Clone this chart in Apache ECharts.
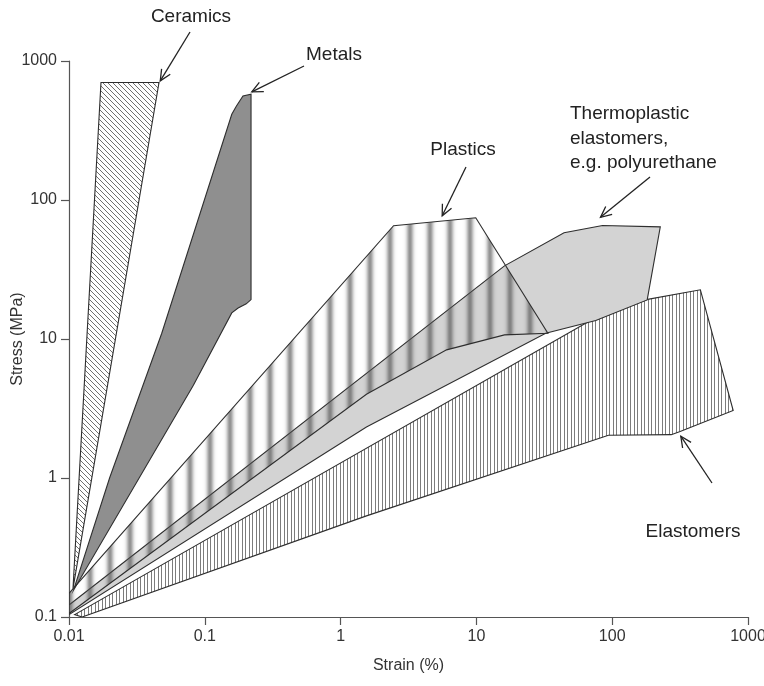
<!DOCTYPE html>
<html>
<head>
<meta charset="utf-8">
<script src="https://cdn.jsdelivr.net/npm/echarts@6/dist/echarts.min.js"></script>
<style>
  html, body { margin: 0; padding: 0; background: #ffffff; }
  #chart { width: 764px; height: 686px; }
</style>
</head>
<body>
<div id="chart"></div>
<script>
// Stress–strain envelopes of material classes on log–log axes.
// Each envelope is a closed polygon of [strain %, stress MPa] vertices.

const xTickLabels = ['0.01', '0.1', '1', '10', '100', '1000'];
const yTickLabels = ['0.1', '1', '10', '100', '1000'];

const ceramics = [[0.0107, 0.16], [0.0172, 700], [0.046, 700]];

const metals = [
  [0.0108, 0.156], [0.0199, 1.0], [0.0482, 11.0], [0.158, 414], [0.171, 474],
  [0.191, 561], [0.219, 577], [0.219, 19.2], [0.202, 17.9], [0.176, 16.7],
  [0.158, 15.4], [0.0824, 4.64]
];

const plastics = [
  [0.01, 0.148], [2.455, 65.3], [9.89, 74.5], [33.6, 11.0], [16.1, 10.7],
  [6.03, 8.35], [1.55, 4.0], [0.01, 0.106]
];

const thermoplastics = [
  [0.01, 0.122], [16.1, 33.6], [44.2, 58.1], [84.9, 65.6], [226, 64.1],
  [181, 19.1], [75.7, 13.6], [32.4, 11.0], [1.55, 2.33], [0.01, 0.104]
];

const elastomers = [
  [0.011, 0.104], [70.2, 13.7], [178, 19.2], [446, 22.6], [778, 3.06],
  [313, 2.15], [272, 2.05], [93.8, 2.03], [1.55, 0.534], [0.0125, 0.1]
];

// Annotation texts and the data point each arrow points at
const labelTexts = ['Ceramics', 'Metals', 'Plastics', 'Thermoplastic\nelastomers,\ne.g. polyurethane', 'Elastomers'];
const arrowTips = [[0.047, 720], [0.222, 600], [5.6, 77], [82, 75], [320, 2.0]];

// Placement of the annotation texts and arrow tails (pixels)
const labelLayout = [
  { x: 191, y: 17, align: 'center', vAlign: 'middle', tail: [190, 32] },
  { x: 334, y: 55, align: 'center', vAlign: 'middle', tail: [304, 66] },
  { x: 463, y: 150, align: 'center', vAlign: 'middle', tail: [466, 167] },
  { x: 570, y: 102, align: 'left', vAlign: 'top', tail: [650, 177] },
  { x: 693, y: 532, align: 'center', vAlign: 'middle', tail: [712, 483] }
];

const FONT = '"Liberation Sans", Arial, Helvetica, sans-serif';

function makeCanvas(w, h, draw) {
  const c = document.createElement('canvas');
  c.width = w; c.height = h;
  draw(c.getContext('2d'));
  return c;
}

// Diagonal hatch for ceramics
const ceramicPattern = {
  image: makeCanvas(5, 5, g => {
    g.fillStyle = '#ffffff'; g.fillRect(0, 0, 5, 5);
    g.strokeStyle = '#707070'; g.lineWidth = 1;
    g.beginPath();
    g.moveTo(-1, -1); g.lineTo(6, 6);
    g.moveTo(-1, 4); g.lineTo(1, 6);
    g.moveTo(4, -1); g.lineTo(6, 1);
    g.stroke();
  }),
  repeat: 'repeat'
};

// Soft vertical bands for plastics (transparent between bands)
const plasticPattern = {
  image: makeCanvas(20, 2, g => {
    for (let x = 0; x < 20; x++) {
      const d = Math.abs(x + 0.5 - 10);
      const a = 0.62 * Math.exp(-Math.pow(d / 3.4, 2));
      g.fillStyle = 'rgba(80,80,80,' + a.toFixed(3) + ')';
      g.fillRect(x, 0, 1, 2);
    }
  }),
  repeat: 'repeat'
};

// Fine vertical hatch for elastomers
const elastomerPattern = {
  image: makeCanvas(7, 2, g => {
    g.fillStyle = '#ffffff'; g.fillRect(0, 0, 7, 2);
    g.fillStyle = '#7c7c7c';
    g.fillRect(0, 0, 1, 2);
    g.fillRect(4, 0, 1, 2);
  }),
  repeat: 'repeat'
};

function polygonSeries(name, pts, fill, z) {
  return {
    type: 'custom',
    name: name,
    coordinateSystem: 'cartesian2d',
    z: z,
    silent: true,
    clip: true,
    data: pts,
    encode: { x: 0, y: 1 },
    renderItem: function (params, api) {
      if (params.dataIndex !== 0) return null;
      const points = pts.map(p => api.coord(p));
      return {
        type: 'polygon',
        shape: { points: points },
        style: { fill: fill, stroke: '#2e2e2e', lineWidth: 1.1 }
      };
    }
  };
}

const chart = echarts.init(document.getElementById('chart'), null, { renderer: 'canvas' });

const axisCommon = {
  type: 'log',
  logBase: 10,
  splitLine: { show: false },
  axisLine: { show: true, onZero: false, lineStyle: { color: '#555555', width: 1.2 } },
  axisTick: { show: true, inside: false, length: 8, lineStyle: { color: '#555555', width: 1.2 } },
  nameLocation: 'middle',
  nameTextStyle: { fontSize: 16, color: '#333333', fontFamily: FONT }
};

chart.setOption({
  backgroundColor: '#ffffff',
  animation: false,
  grid: { left: 69, right: 16, top: 61, bottom: 69, containLabel: false, outerBoundsMode: 'none' },
  xAxis: Object.assign({}, axisCommon, {
    min: 0.01, max: 1000,
    name: 'Strain (%)',
    nameGap: 41,
    axisLabel: {
      fontSize: 16, color: '#333333', fontFamily: FONT, margin: 12,
      formatter: v => xTickLabels[Math.round(Math.log10(v)) + 2]
    }
  }),
  yAxis: Object.assign({}, axisCommon, {
    min: 0.1, max: 1000,
    axisLabel: {
      fontSize: 16, color: '#333333', fontFamily: FONT, margin: 12,
      formatter: v => yTickLabels[Math.round(Math.log10(v)) + 1]
    }
  }),
  series: [
    polygonSeries('Ceramics', ceramics, ceramicPattern, 2),
    polygonSeries('Metals', metals, '#8f8f8f', 3),
    polygonSeries('Elastomers', elastomers, elastomerPattern, 4),
    polygonSeries('Thermoplastic elastomers', thermoplastics, '#d3d3d3', 5),
    polygonSeries('Plastics', plastics, plasticPattern, 6)
  ]
});

// Annotation texts with open-headed arrows pointing into the envelopes
function arrowGraphics(tail, tip) {
  const dx = tip[0] - tail[0], dy = tip[1] - tail[1];
  const len = Math.hypot(dx, dy);
  const ux = dx / len, uy = dy / len;
  const L = 12, th = 25 * Math.PI / 180;
  const head = s => {
    const c = Math.cos(s * th), sn = Math.sin(s * th);
    const rx = ux * c - uy * sn, ry = ux * sn + uy * c;
    return [tip[0] - L * rx, tip[1] - L * ry];
  };
  const style = { stroke: '#222222', lineWidth: 1.3, fill: null };
  return [
    { type: 'polyline', shape: { points: [tail, tip] }, style: style, z: 100 },
    { type: 'polyline', shape: { points: [head(1), tip, head(-1)] }, style: style, z: 100 }
  ];
}

const graphics = [];

// Vertical stress axis title, centred on the plot height
const plotTop = chart.convertToPixel({ gridIndex: 0 }, [0.01, 1000])[1];
const plotBottom = chart.convertToPixel({ gridIndex: 0 }, [0.01, 0.1])[1];
graphics.push({
  type: 'text', z: 100,
  x: 18, y: (plotTop + plotBottom) / 2,
  rotation: Math.PI / 2,
  style: {
    text: 'Stress (MPa)', x: 0, y: 0,
    font: '16px ' + FONT, fill: '#333333',
    align: 'center', textAlign: 'center',
    verticalAlign: 'middle', textVerticalAlign: 'middle'
  }
});

labelTexts.forEach((txt, i) => {
  const lay = labelLayout[i];
  const tip = chart.convertToPixel({ gridIndex: 0 }, arrowTips[i]);
  graphics.push({
    type: 'text', z: 100,
    style: {
      text: txt, x: lay.x, y: lay.y,
      font: '19px ' + FONT, fill: '#222222',
      lineHeight: 24.5,
      align: lay.align, textAlign: lay.align,
      verticalAlign: lay.vAlign, textVerticalAlign: lay.vAlign
    }
  });
  arrowGraphics(lay.tail, tip).forEach(g => graphics.push(g));
});
chart.setOption({ graphic: graphics });
</script>
</body>
</html>
